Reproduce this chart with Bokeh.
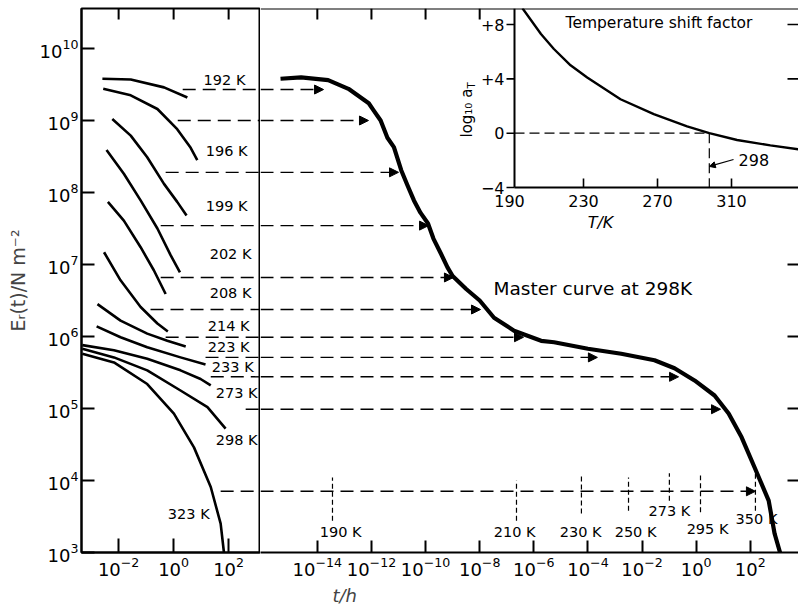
import math
from bokeh.plotting import figure
from bokeh.layouts import row
from bokeh.models import (Range1d, FixedTicker, ColumnDataSource, Arrow,
                          NormalHead, Title, LinearScale)
from bokeh.core.properties import value
from bokeh.embed import file_html
from bokeh.resources import INLINE

# ---------------- data (log10 values) ----------------
# isothermal relaxation curves (left panel): log10(t/h) and log10(E_r / N m^-2)
logt_192 = [-2.59, -1.56, -0.35, 0.50]
logE_192 = [9.58, 9.57, 9.46, 9.32]
logt_196 = [-2.56, -1.56, -0.59, 0.13, 0.62, 0.86]
logE_196 = [9.44, 9.35, 9.16, 8.88, 8.62, 8.45]
logt_199 = [-2.23, -1.56, -0.96, -0.35, 0.13, 0.47]
logE_199 = [9.02, 8.79, 8.49, 8.12, 7.87, 7.68]
logt_202 = [-2.44, -1.81, -1.20, -0.59, -0.11, 0.23]
logE_202 = [8.59, 8.26, 7.89, 7.50, 7.13, 6.89]
logt_208 = [-2.39, -1.81, -1.20, -0.72, -0.29]
logE_208 = [7.87, 7.61, 7.24, 6.92, 6.59]
logt_214 = [-2.53, -1.93, -1.20, -0.59, -0.21]
logE_214 = [7.17, 6.78, 6.41, 6.18, 6.07]
logt_223 = [-2.77, -1.93, -0.96, -0.23, 0.44]
logE_223 = [6.45, 6.22, 6.04, 5.94, 5.86]
logt_233 = [-2.80, -1.93, -0.96, 0.25, 1.16]
logE_233 = [6.14, 5.99, 5.85, 5.71, 5.61]
logt_273 = [-3.32, -2.17, -0.96, 0.25, 0.98, 1.35]
logE_273 = [5.88, 5.81, 5.69, 5.53, 5.41, 5.32]
logt_298 = [-3.32, -2.17, -0.96, 0.25, 1.23, 1.89]
logE_298 = [5.83, 5.71, 5.53, 5.25, 5.02, 4.72]
logt_323 = [-3.32, -2.17, -0.96, 0.01, 0.74, 1.35, 1.71, 1.83]
logE_323 = [5.76, 5.64, 5.34, 4.93, 4.46, 3.91, 3.40, 3.00]

curve_labels = ["192 K", "196 K", "199 K", "202 K", "208 K", "214 K",
                "223 K", "233 K", "273 K", "298 K", "323 K"]

# master curve at 298 K (right panel)
master_logt = [-15.36, -14.6, -13.6, -12.85, -12.1, -11.92, -11.66, -11.41, -11.17,
               -10.9, -10.67, -10.43, -10.19, -9.91, -9.71, -9.43, -9.19, -9.0, -8.5,
               -8.0, -7.47, -6.73, -5.73, -5.25, -4.0, -2.77, -1.54, -0.8, -0.06,
               0.68, 1.2, 1.68, 2.16, 2.68, 2.9, 3.1]
master_logE = [9.58, 9.60, 9.56, 9.44, 9.24, 9.14, 9.0, 8.76, 8.63,
               8.31, 8.10, 7.89, 7.72, 7.57, 7.36, 7.15, 6.96, 6.84, 6.66,
               6.5, 6.26, 6.08, 5.94, 5.92, 5.83, 5.76, 5.67, 5.56, 5.39,
               5.18, 4.93, 4.6, 4.18, 3.72, 3.26, 3.0]

# horizontal shift arrows: level, start (left panel), arrow tip (right panel)
shift_logE = [9.43, 9.00, 8.28, 7.54, 6.82, 6.375, 5.99, 5.71, 5.44, 4.99, 3.85]
shift_from_logt = [0.33, 0.15, -0.29, -0.47, -0.47, -0.84, -0.29, 1.16, 1.35, 2.62, 1.71]
shift_to_logt = [-13.77, -12.11, -11.0, -9.89, -8.97, -7.97, -6.38, -3.65, -0.65, 0.90, 2.19]

# temperature marks along the 10^4 line of the master curve
mark_labels = ["190 K", "210 K", "230 K", "250 K", "273 K", "295 K", "350 K"]
mark_logt = [-13.44, -6.64, -4.24, -2.50, -0.99, 0.16, 2.19]
mark_top_logE = [4.04, 4.00, 4.07, 4.04, 4.10, 4.07, 4.10]
mark_bot_logE = [3.44, 3.44, 3.54, 3.58, 3.72, 3.56, 3.58]

# inset: temperature shift factor
shift_T = [197, 207, 214, 223, 232, 250, 268, 286, 298, 313, 331, 347]
shift_log_aT = [9.2, 7.3, 6.2, 5.0, 4.1, 2.5, 1.4, 0.5, 0.0, -0.5, -0.9, -1.2]
ref_T = 298
inset_xticks = [190, 230, 270, 310]
inset_yticks = [8, 4, 0, -4]
inset_ytick_labels = ["+8", "+4", "0", "\u22124"]

# axis ticks
left_xticks = [1e-2, 1e0, 1e2]
right_xticks = [1e-14, 1e-12, 1e-10, 1e-8, 1e-6, 1e-4, 1e-2, 1e0, 1e2]
right_top_ticks = [1e-14, 1e-12, 1e-10, 1e-8]
yticks = [1e3, 1e4, 1e5, 1e6, 1e7, 1e8, 1e9, 1e10]
right_yticks = [1e4, 1e5, 1e6, 1e7]

# ---------------- annotation placement ----------------
curve_label_logt = [1.85, 1.93, 1.93, 2.07, 2.07, 2.0, 2.0, 2.15, 2.29, 2.29, 0.55]
curve_label_logE = [9.56, 8.58, 7.81, 7.14, 6.60, 6.15, 5.86, 5.58, 5.21, 4.56, 3.53]
mark_label_logt = [-13.14, -6.71, -4.27, -2.24, -0.99, 0.42, 2.23]
mark_label_logE = [3.29, 3.29, 3.28, 3.28, 3.57, 3.33, 3.46]

FONT = "DejaVu Sans"
LF_W, RF_W, FH = 179, 538, 544
LEFT_PAD, TOP_PAD = 81, 8
PXD_L, PXD_R, PXD_Y = 27.5, 27.06, 72.0     # pixels per decade
left_xmin = -3.35
left_xmax = left_xmin + LF_W / PXD_L
right_xmin = -16.1
right_xmax = right_xmin + RF_W / PXD_R
ymin = 3.0
ymax = ymin + FH / PXD_Y

def p10(v):
    return [10.0 ** a for a in v]

def style_axis(ax, ticks, tin, size="18px"):
    ax.ticker = FixedTicker(ticks=ticks, minor_ticks=[])
    ax.major_tick_in = tin
    ax.major_tick_out = 0
    ax.major_tick_line_width = 2
    ax.minor_tick_line_color = None
    ax.axis_line_width = 2
    ax.axis_line_color = "black"
    ax.major_label_text_font_size = size
    ax.major_label_text_font = FONT
    ax.major_label_text_color = "black"
    ax.major_label_standoff = 4

def top_ticks(fig, ticks):
    n = len(ticks)
    fig.segment(x0=ticks, y0=[10 ** ymax] * n, x1=ticks,
                y1=[10 ** (ymax - 11 / PXD_Y)] * n, line_color="black", line_width=2)

# ---------------- left panel ----------------
lf = figure(frame_width=LF_W, frame_height=FH, x_axis_type="log", y_axis_type="log",
            x_range=Range1d(10 ** left_xmin, 10 ** left_xmax),
            y_range=Range1d(10 ** ymin, 10 ** ymax),
            output_backend="svg", toolbar_location=None, title=None,
            min_border_left=LEFT_PAD, min_border_right=0, min_border_top=TOP_PAD,
            min_border_bottom=0)
lf.grid.visible = False
lf.outline_line_color = "black"
lf.outline_line_width = 2
style_axis(lf.xaxis[0], left_xticks, 14)
style_axis(lf.yaxis[0], yticks, 13)
lf.yaxis[0].major_label_standoff = 3
lf.yaxis[0].axis_label = "E\u1d63(t)/N m\u207b\u00b2"
lf.yaxis[0].axis_label_text_font = FONT
lf.yaxis[0].axis_label_text_font_size = "19px"
lf.yaxis[0].axis_label_text_font_style = "normal"
lf.yaxis[0].axis_label_standoff = 8
top_ticks(lf, left_xticks)

curves_t = [logt_192, logt_196, logt_199, logt_202, logt_208, logt_214,
            logt_223, logt_233, logt_273, logt_298, logt_323]
curves_E = [logE_192, logE_196, logE_199, logE_202, logE_208, logE_214,
            logE_223, logE_233, logE_273, logE_298, logE_323]
lf.multi_line(xs=[p10(c) for c in curves_t], ys=[p10(c) for c in curves_E],
              line_color="black", line_width=2.6, line_join="round")

lf.segment(x0=p10(shift_from_logt), y0=p10(shift_logE),
           x1=[10 ** (left_xmax + 1)] * len(shift_logE), y1=p10(shift_logE),
           line_color="black", line_width=1.4, line_dash="13 7")

lf.text(x=p10(curve_label_logt), y=p10(curve_label_logE), text=curve_labels,
        text_font=value(FONT), text_font_size="14.5px", text_align="center",
        text_baseline="middle", text_color="black")

# ---------------- right panel ----------------
rf = figure(frame_width=RF_W, frame_height=FH, x_axis_type="log", y_axis_type="log",
            x_range=Range1d(10 ** right_xmin, 10 ** right_xmax),
            y_range=Range1d(10 ** ymin, 10 ** ymax), y_axis_location=None,
            output_backend="svg", toolbar_location=None, title=None,
            min_border_left=0, min_border_right=0, min_border_top=TOP_PAD,
            min_border_bottom=0)
rf.grid.visible = False
rf.outline_line_color = None
style_axis(rf.xaxis[0], right_xticks, 12)
top_ticks(rf, right_top_ticks)
# top frame line
rf.segment(x0=[10 ** right_xmin], y0=[10 ** ymax], x1=[10 ** right_xmax], y1=[10 ** ymax],
           line_color="black", line_width=2)
# right-edge ticks
nr = len(right_yticks)
rf.segment(x0=[10 ** (right_xmax - 11 / PXD_R)] * nr, y0=right_yticks,
           x1=[10 ** right_xmax] * nr, y1=right_yticks, line_color="black", line_width=2)
rf.add_layout(Title(text="t/h", align="left", offset=72, text_font=FONT,
                    text_font_size="18px", text_font_style="italic",
                    standoff=8), "below")

rf.line(x=p10(master_logt), y=p10(master_logE), line_color="black", line_width=4.2,
        line_join="round")

arrows = ColumnDataSource(dict(x0=[10 ** right_xmin] * len(shift_logE), y0=p10(shift_logE),
                               x1=p10(shift_to_logt), y1=p10(shift_logE)))
rf.add_layout(Arrow(source=arrows, x_start="x0", y_start="y0", x_end="x1", y_end="y1",
                    line_color="black", line_width=1.4, line_dash="13 7",
                    end=NormalHead(size=9, fill_color="black", line_color="black",
                                   line_width=1)))

rf.segment(x0=p10(mark_logt), y0=p10(mark_bot_logE), x1=p10(mark_logt),
           y1=p10(mark_top_logE), line_color="black", line_width=1.2, line_dash="5 3")
rf.text(x=p10(mark_label_logt), y=p10(mark_label_logE), text=mark_labels,
        text_font=value(FONT), text_font_size="14.5px", text_align="center",
        text_baseline="middle", text_color="black")
rf.text(x=[10 ** -7.49], y=[10 ** 6.67], text=["Master curve at 298K"],
        text_font=value(FONT), text_font_size="18.5px", text_align="left",
        text_baseline="middle", text_color="black")

# ---------------- inset (shift factor) ----------------
PX_K, PX_U = 1.85, 13.58       # pixels per kelvin, per unit of log10 aT
INSET_X, INSET_Y = 254, 179    # inset origin offset from the right frame's top-left
T0, V0 = 192.7, -4.0
ix = Range1d(T0 - INSET_X / PX_K, T0 + (RF_W - INSET_X) / PX_K)
iy = Range1d(V0 - (FH - INSET_Y) / PX_U, V0 + INSET_Y / PX_U)
rf.extra_x_ranges = {"ix": ix}
rf.extra_y_ranges = {"iy": iy}
rf.extra_x_scales = {"ix": LinearScale()}
rf.extra_y_scales = {"iy": LinearScale()}
kw = dict(x_range_name="ix", y_range_name="iy")

rf.line(x=shift_T, y=shift_log_aT, line_color="black", line_width=2.4,
        line_join="round", **kw)
# inset axis lines
rf.segment(x0=[T0, T0], y0=[V0, V0], x1=[T0, ix.end], y1=[iy.end, V0],
           line_color="black", line_width=2, **kw)
# inset ticks
rf.segment(x0=[T0 - 8 / PX_K] * len(inset_yticks), y0=inset_yticks,
           x1=[T0] * len(inset_yticks), y1=inset_yticks,
           line_color="black", line_width=1.6, **kw)
rf.segment(x0=inset_xticks[1:], y0=[V0] * 3, x1=inset_xticks[1:],
           y1=[V0 + 9 / PX_U] * 3, line_color="black", line_width=1.6, **kw)
rf.segment(x0=[ix.end - 11 / PX_K] * 2, y0=inset_yticks[:2], x1=[ix.end] * 2,
           y1=inset_yticks[:2], line_color="black", line_width=1.6, **kw)
# reference lines at 298 K
rf.segment(x0=[T0, ref_T], y0=[0, 0], x1=[ref_T, ref_T], y1=[0, V0],
           line_color="black", line_width=1.2, line_dash="10 5", **kw)
rf.add_layout(Arrow(x_start=311.1, y_start=-1.94, x_end=ref_T, y_end=-2.45,
                    x_range_name="ix", y_range_name="iy", line_color="black",
                    line_width=1.2, end=NormalHead(size=6, fill_color="black",
                                                   line_color="black")))
rf.text(x=[313.8], y=[-2.0], text=[str(ref_T)], text_font=value(FONT),
        text_font_size="16px", text_align="left", text_baseline="middle", **kw)
# inset labels
rf.text(x=[T0 - 10 / PX_K] * 4, y=inset_yticks, text=inset_ytick_labels,
        text_font=value(FONT), text_font_size="16px", text_align="right",
        text_baseline="middle", **kw)
rf.text(x=inset_xticks, y=[V0 - 7 / PX_U] * 4, text=[str(t) for t in inset_xticks],
        text_font=value(FONT), text_font_size="16px", text_align="center",
        text_baseline="top", **kw)
rf.text(x=[239.2], y=[-6.58], text=["T/K"], text_font=value(FONT),
        text_font_size="16px", text_font_style="italic", text_align="center",
        text_baseline="middle", **kw)
rf.text(x=[166.8], y=[-0.32], text=["log\u2081\u2080 a"], angle=math.pi / 2,
        text_font=value(FONT), text_font_size="15px", text_align="left",
        text_baseline="middle", **kw)
rf.text(x=[166.8], y=[-0.32], text=["T"], angle=math.pi / 2, y_offset=-49, x_offset=5,
        text_font=value(FONT), text_font_size="10px", text_align="left",
        text_baseline="middle", **kw)
rf.text(x=[220.3], y=[8.08], text=["Temperature shift factor"], text_font=value(FONT),
        text_font_size="15.5px", text_align="left", text_baseline="middle", **kw)

layout = row(lf, rf)
open("out.html", "w").write(file_html(layout, INLINE))
